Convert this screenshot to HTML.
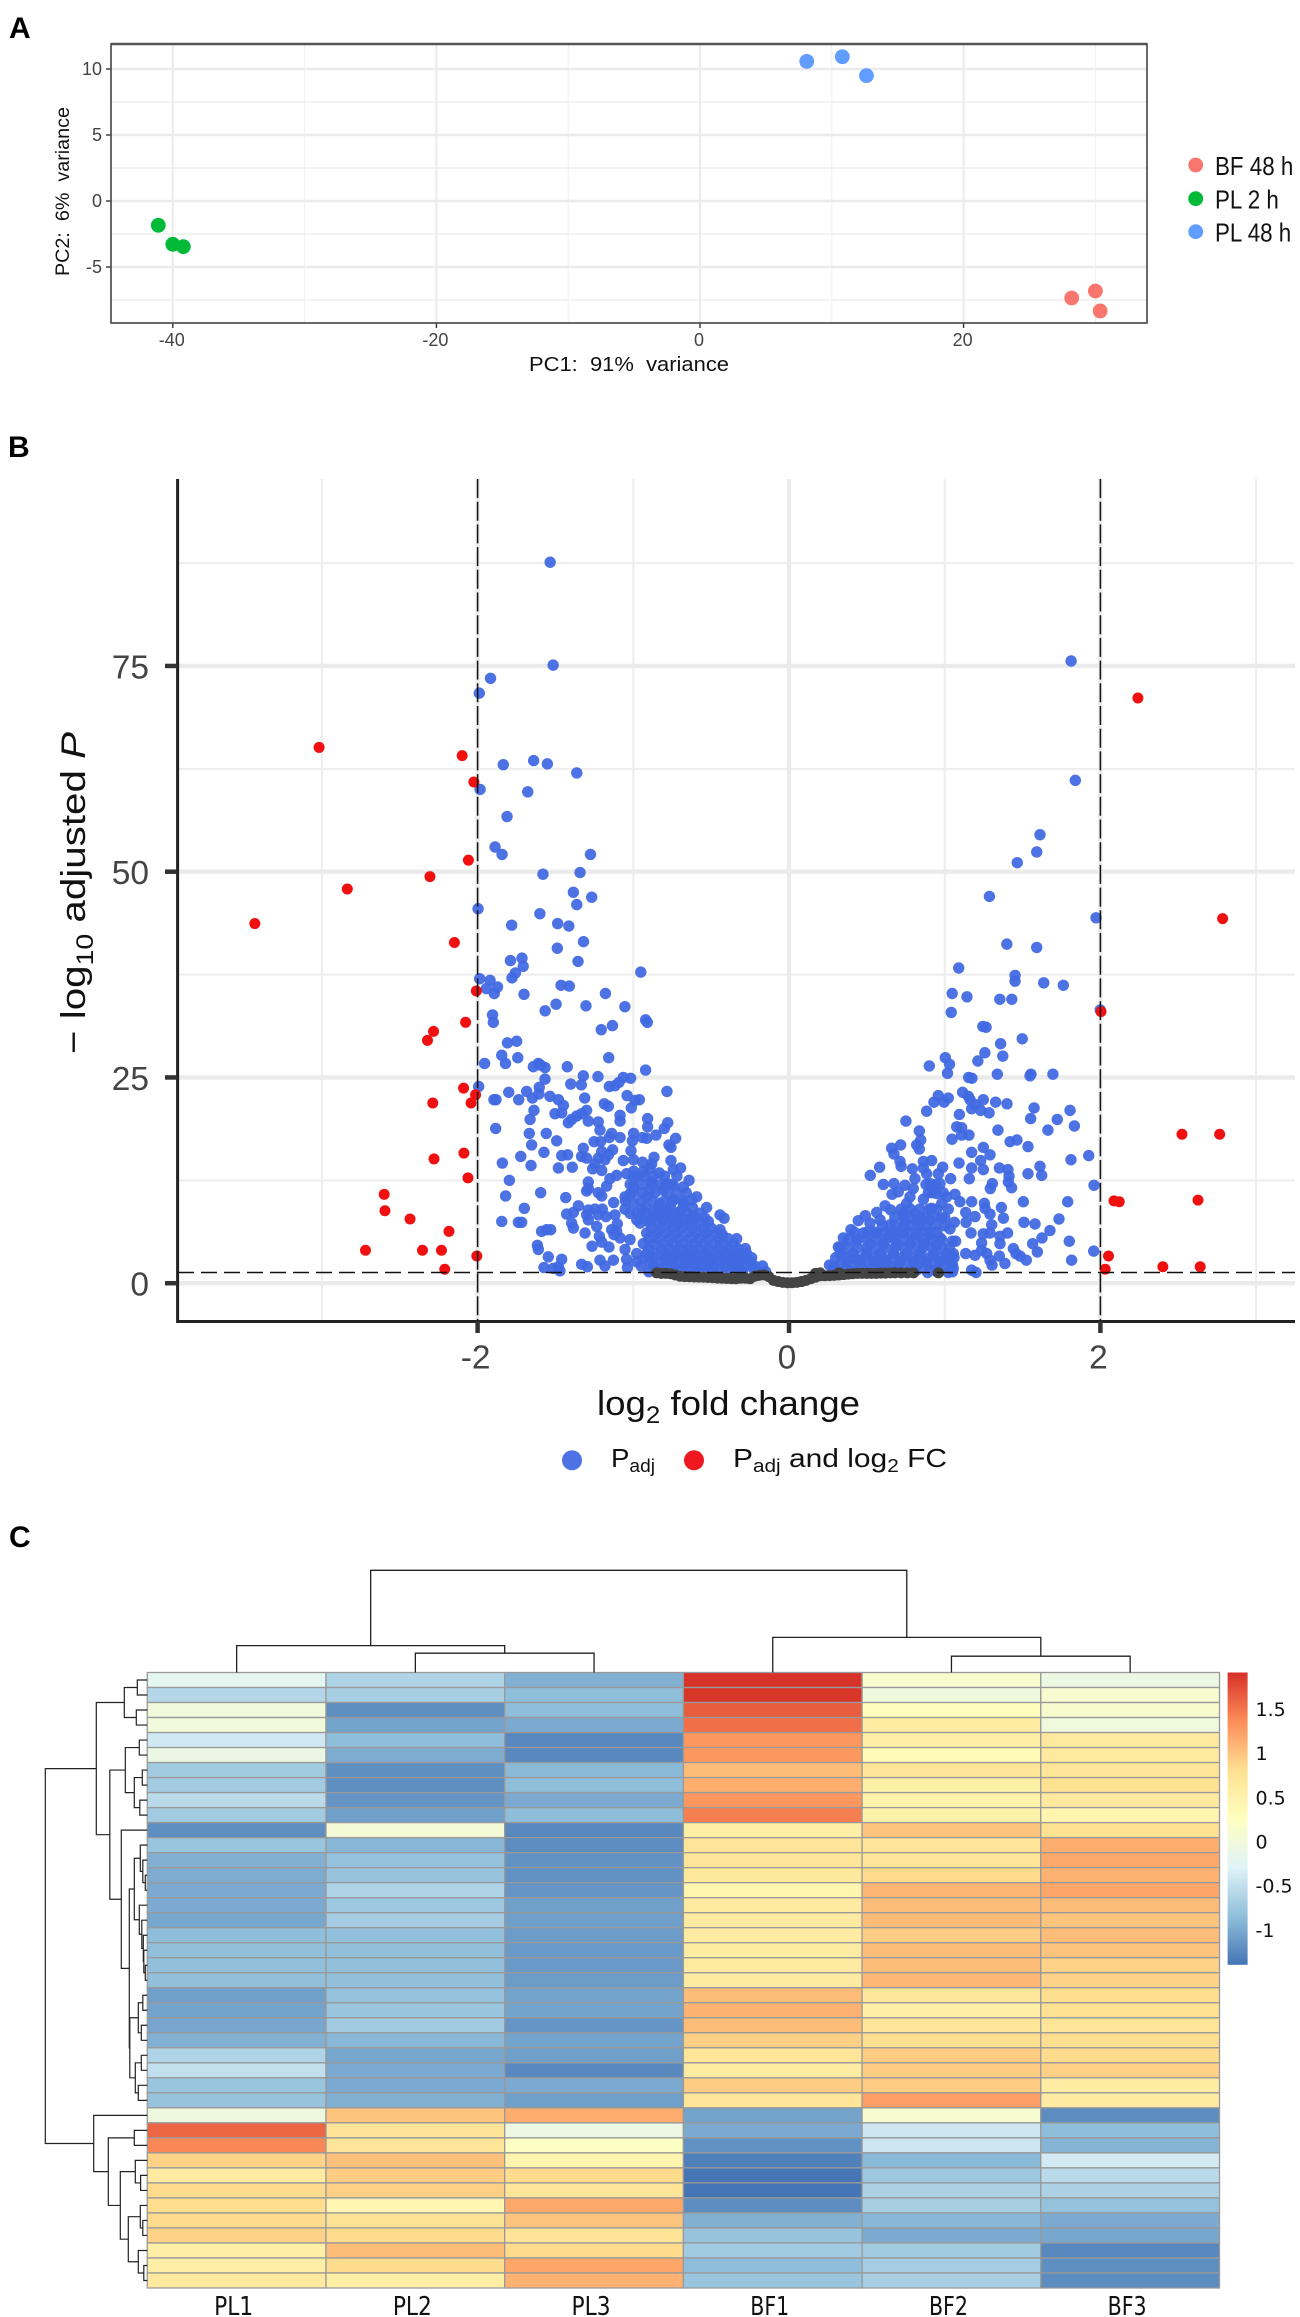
<!DOCTYPE html>
<html lang="en">
<head>
<meta charset="utf-8">
<title>PCA, volcano plot and heatmap</title>
<style>
html,body{margin:0;padding:0;background:#fff;}
svg{display:block;font-family:"Liberation Sans",sans-serif;}
</style>
</head>
<body>
<svg id="fig" xmlns="http://www.w3.org/2000/svg" width="1300" height="2317" viewBox="0 0 1300 2317">
  <rect x="0" y="0" width="1300" height="2317" fill="#fff"/>
  <text x="9" y="38" font-size="30" font-weight="bold" fill="#000">A</text>
  <text x="8" y="457" font-size="30" font-weight="bold" fill="#000">B</text>
  <text x="9" y="1547" font-size="30" font-weight="bold" fill="#000">C</text>
  <g id="pca"></g>
  <text x="529" y="371" font-size="20.5" fill="#111" textLength="200" lengthAdjust="spacingAndGlyphs" xml:space="preserve">PC1:  91%  variance</text>
  <text transform="translate(69 276) rotate(-90)" font-size="19.5" fill="#111" textLength="169" lengthAdjust="spacingAndGlyphs" xml:space="preserve">PC2:  6%  variance</text>
  <g id="volcano"></g>
  <text transform="translate(85 1054) rotate(-90)" font-size="34" fill="#111" textLength="322" lengthAdjust="spacingAndGlyphs" xml:space="preserve">− log<tspan font-size="24" dy="8">10</tspan><tspan dy="-8"> adjusted </tspan><tspan font-style="italic">P</tspan></text>
  <text x="597" y="1415" font-size="34" fill="#111" textLength="263" lengthAdjust="spacingAndGlyphs" xml:space="preserve">log<tspan font-size="24" dy="8">2</tspan><tspan dy="-8"> fold change</tspan></text>
  <circle cx="572" cy="1460.3" r="10" fill="#4d72e3"/>
  <text x="611" y="1467" font-size="26" fill="#111" textLength="44" lengthAdjust="spacingAndGlyphs">P<tspan font-size="18" dy="5">adj</tspan></text>
  <circle cx="694" cy="1460.3" r="10" fill="#f01820"/>
  <text x="733" y="1467" font-size="26" fill="#111" textLength="214" lengthAdjust="spacingAndGlyphs" xml:space="preserve">P<tspan font-size="18" dy="5">adj</tspan><tspan dy="-5"> and log</tspan><tspan font-size="18" dy="5">2</tspan><tspan dy="-5"> FC</tspan></text>
  <g id="heat"></g>
</svg>
<script>
// ---------- Panel A data ----------
const pcaXTicks = [-40, -20, 0, 20];
const pcaXMinor = [-30, -10, 10, 30];
const pcaYTicks = [10, 5, 0, -5];
const pcaYMinor = [7.5, 2.5, -2.5, -7.5];
const pcaBF48 = [[30, -6.82], [28.2, -7.35], [30.36, -8.33]];
const pcaPL2 = [[-41.1, -1.84], [-40, -3.28], [-39.2, -3.46]];
const pcaPL48 = [[8.1, 10.58], [10.8, 10.93], [12.63, 9.5]];
const pcaLegend = ['BF 48 h', 'PL 2 h', 'PL 48 h'];

// ---------- Panel B data ----------
const volXTicks = [-2, 0, 2];
const volXMinor = [-3, -1, 1, 3];
const volYTicks = [75, 50, 25, 0];
const volYMinor = [87.5, 62.5, 37.5, 12.5];
const volXCut = [-2, 2];
const volYCut = 1.3;
const blueUpperLeft = [[-1.534,87.6],[-1.515,75.1],[-1.917,73.5],[-1.989,71.7],[-1.835,63],[-1.64,63.5],[-1.552,63.1],[-1.363,62],[-1.984,60],[-1.678,59.7],[-1.811,56.7],[-1.888,53],[-1.843,52.1],[-1.275,52.1],[-1.58,49.7],[-1.342,49.9],[-1.385,47.5],[-1.267,46.9],[-1.363,46],[-1.997,45.5],[-1.6,44.9],[-1.486,43.7],[-1.414,43.4],[-1.781,43.5],[-1.32,41.5],[-1.488,40.7],[-1.789,39.2],[-1.715,39.5],[-1.355,39.1],[-1.707,38.5],[-1.757,37.7],[-1.779,37.1],[-0.952,37.8],[-1.987,37],[-1.92,36.8],[-1.872,36],[-1.944,35.8],[-1.893,35.2],[-1.464,36.2],[-1.411,36.1],[-1.702,35.1],[-1.179,35.2],[-1.496,33.9],[-1.304,33.7],[-1.054,33.6],[-1.566,33.1],[-1.904,32.6],[-1.899,31.7],[-0.921,32],[-0.91,31.7],[-1.134,31.3],[-1.206,30.8],[-1.808,29.2],[-1.749,29.4],[-1.845,27.7],[-1.742,27.4],[-1.821,26.7],[-1.158,27.4],[-1.955,26.7]];
const blueLowerLeft = [[-1.61,26.7],[-1.642,26.3],[-1.595,26.5],[-1.567,26.2],[-1.424,26.3],[-0.921,25.9],[-1.321,25.2],[-1.227,25.1],[-1.567,24.8],[-1.017,24.9],[-1.064,25],[-1.092,24.4],[-1.402,24.2],[-1.334,24.1],[-1.154,23.9],[-1.118,24],[-1.604,23.8],[-1.993,23.9],[-1.8,23.2],[-1.685,23.3],[-1.606,23],[-0.784,23.3],[-1.882,22.3],[-1.895,22.3],[-1.736,22.3],[-1.648,22.5],[-1.535,22.7],[-1.481,22.3],[-1.04,22.8],[-1.312,22.5],[-0.961,22.3],[-0.989,22.2],[-1.449,21.6],[-1.186,21.8],[-1.16,21.5],[-1.013,21.3],[-1.638,21],[-1.3,21],[-1.503,20.6],[-1.46,20.7],[-1.332,20.6],[-1.364,20.3],[-1.085,20.4],[-1.663,19.9],[-1.396,19.9],[-1.417,19.5],[-1.289,19.7],[-1.225,19.6],[-1.085,19.7],[-0.908,20],[-0.779,19.5],[-0.908,19],[-0.801,18.8],[-1.884,18.8],[-1.214,18.6],[-1.668,18.2],[-1.559,18.2],[-1.139,18.2],[-0.998,18.2],[-0.854,18],[-1.154,17.7],[-1.085,17.7],[-0.942,17.7],[-0.914,17.6],[-0.728,17.6],[-1.006,17.3],[-1.492,17.3],[-1.252,17.2],[-1.21,17.2],[-0.771,16.8],[-0.758,16.5],[-1.653,16.8],[-1.321,16.4],[-1.133,16.2],[-1.015,16.1],[-1.574,15.9],[-1.203,16],[-1.16,15.6],[-1.46,15.5],[-1.422,15.6],[-1.723,15.4],[-1.332,15.4],[-1.3,15.2],[-1.225,15.2],[-1.182,15],[-0.867,15.3],[-0.998,15],[-1.064,14.9],[-0.758,14.9],[-1.841,14.6],[-1.657,14.3],[-1.246,14.5],[-0.94,14.7],[-0.882,14.5],[-1.481,14],[-1.392,14.1],[-1.261,13.9],[-1.203,13.7],[-0.743,13.8],[-0.696,14],[-0.998,13.6],[-0.936,13.6],[-0.893,14],[-0.833,13.4],[-1.107,13.1],[-1.043,13.3],[-0.978,13],[-1.15,12.7],[-1.796,12.5],[-0.642,12.5],[-1.289,12.3],[-1.171,11.8],[-0.882,12.3],[-0.786,12.1],[-0.743,11.9],[-0.679,11.7],[-1.289,11.5],[-1.595,11],[-1.225,11],[-0.998,11.7],[-1.019,10.9],[-0.893,11.3],[-0.807,11.3],[-1.3,11.2],[-1.82,10.6],[-1.203,10.6],[-1.434,10.4],[-1.053,10.5],[-0.914,10.5],[-0.593,10.5],[-0.625,10.1],[-0.743,10.1],[-1.126,9.8],[-0.998,9.7],[-0.829,9.7],[-0.679,9.7],[-1.353,9.4],[-0.529,9.2],[-1.7,9.1],[-1.289,8.9],[-1.246,9],[-1.199,9],[-1.053,9],[-1.021,8.5],[-0.946,8.9],[-0.871,8.7],[-0.786,8.9],[-0.7,8.7],[-0.614,8.1],[-0.572,8.5],[-1.385,8.6],[-1.428,8.4],[-1.3,8.3],[-1.225,8.3],[-1.175,8.1],[-1.118,8.3],[-0.443,8.3],[-0.417,7.9],[-1.845,7.5],[-1.738,7.4],[-1.717,7.4],[-1.289,7.7],[-1.396,7.3],[-0.978,7.7],[-0.893,7.7],[-0.807,7.7],[-0.722,7.7],[-0.636,7.3],[-0.518,7.5],[-1.103,7.2],[-1.235,6.9],[-1.385,6.7],[-1.531,6.5],[-1.557,6.5],[-1.589,6.3],[-1.139,6.5],[-1.107,6.3],[-1.31,6.1],[-0.443,6.5],[-0.428,5.9],[-1.124,5.9],[-1.218,5.7],[-1.085,5.5],[-1.021,5.3],[-0.336,5.4],[-1.203,5],[-1.616,4.6],[-1.61,4.1],[-1.265,4.5],[-1.156,4.4],[-1.053,4.1],[-1.546,3.2],[-1.46,2.9],[-1.214,2.8],[-1.128,2.8],[-1.043,2.9],[-1.332,2.3],[-1.295,2],[-1.182,2.1],[-1.038,1.9],[-1.574,1.9],[-1.514,1.8],[-1.481,2],[-1.471,1.5]];
const blueDenseLeft = [[-0.978,8.5],[-0.914,8.5],[-0.85,8.5],[-0.786,8.5],[-0.722,8.5],[-0.658,8.5],[-0.957,7.3],[-0.893,7.3],[-0.829,7.3],[-0.764,7.3],[-0.7,7.3],[-0.636,7.3],[-0.572,7.3],[-0.914,6.1],[-0.85,6.1],[-0.786,6.1],[-0.722,6.1],[-0.657,6.1],[-0.593,6.1],[-0.529,6.1],[-0.465,6.1],[-0.936,4.8],[-0.871,4.8],[-0.807,4.8],[-0.743,4.8],[-0.679,4.8],[-0.614,4.8],[-0.55,4.8],[-0.486,4.8],[-0.422,4.8],[-0.358,4.8],[-0.978,3.6],[-0.914,3.6],[-0.85,3.6],[-0.786,3.6],[-0.722,3.6],[-0.657,3.6],[-0.593,3.6],[-0.529,3.6],[-0.465,3.6],[-0.4,3.6],[-0.336,3.6],[-0.272,3.6],[-0.978,2.6],[-0.893,2.6],[-0.829,2.6],[-0.764,2.6],[-0.7,2.6],[-0.636,2.6],[-0.572,2.6],[-0.507,2.6],[-0.443,2.6],[-0.379,2.6],[-0.315,2.6],[-0.25,2.6],[-0.85,1.8],[-0.764,1.8],[-0.65,1.8],[-0.55,1.8],[-0.443,1.8],[-0.336,1.8],[-0.229,1.8]];
const blueFillLeft = [[-1,13],[-0.93,13],[-0.87,13],[-0.8,13],[-0.72,13],[-1.02,12],[-0.95,12],[-0.88,12],[-0.82,12],[-0.76,12],[-1,11],[-0.94,11],[-0.86,11],[-0.78,11],[-0.72,11],[-0.66,11],[-1.05,10],[-0.95,10],[-0.88,10],[-0.8,10],[-0.75,10],[-0.68,10],[-0.92,9.2],[-0.84,9.2],[-0.76,9.2],[-0.68,9.2],[-0.62,9.2],[-0.95,7.9],[-0.88,7.9],[-0.82,7.9],[-0.75,7.9],[-0.68,7.9],[-0.6,7.9],[-0.54,7.9],[-0.88,6.7],[-0.82,6.7],[-0.75,6.7],[-0.69,6.7],[-0.62,6.7],[-0.55,6.7],[-0.5,6.7],[-0.9,5.4],[-0.84,5.4],[-0.77,5.4],[-0.71,5.4],[-0.64,5.4],[-0.58,5.4],[-0.52,5.4],[-0.45,5.4],[-0.39,5.4],[-0.9,4.2],[-0.82,4.2],[-0.77,4.2],[-0.7,4.2],[-0.64,4.2],[-0.58,4.2],[-0.52,4.2],[-0.45,4.2],[-0.39,4.2],[-0.33,4.2],[-0.28,4.2],[-0.93,3.1],[-0.87,3.1],[-0.8,3.1],[-0.74,3.1],[-0.68,3.1],[-0.62,3.1],[-0.55,3.1],[-0.49,3.1],[-0.42,3.1],[-0.36,3.1],[-0.3,3.1],[-0.24,3.1],[-0.95,2.1],[-0.87,2.1],[-0.8,2.1],[-0.74,2.1],[-0.67,2.1],[-0.6,2.1],[-0.54,2.1],[-0.48,2.1],[-0.41,2.1],[-0.35,2.1],[-0.28,2.1],[-0.22,2.1],[-0.17,2.1],[-0.9,1.4],[-0.82,1.4],[-0.72,1.4],[-0.6,1.4],[-0.5,1.4],[-0.4,1.4],[-0.3,1.4],[-0.2,1.4],[-0.15,1.4]];
const blueUpperRight = [[1.812,75.6],[1.839,61.1],[1.612,54.5],[1.591,52.4],[1.466,51.1],[1.287,47],[1.972,44.4],[1.399,41.2],[1.591,40.8],[1.09,38.3],[1.452,37.4],[1.452,36.7],[1.636,36.5],[1.762,36.2],[1.048,35.2],[1.143,34.8],[1.354,34.5],[1.431,34.5],[1.042,32.9],[1.999,33.2],[1.245,31.2],[1.266,31.1],[1.498,29.7],[1.359,29.1],[1.258,28],[1.373,27.6],[1.004,27.4],[1.213,27],[1.031,26.6],[0.901,26.4],[1.018,25.5],[1.338,25.4],[1.554,25.4],[1.548,25.2],[1.695,25.4],[1.154,25],[1.175,24.9]];
const blueLowerRight = [[1.115,23.2],[1.152,22.7],[1.163,22.3],[0.959,22.8],[0.931,22],[1.023,22.5],[0.996,22],[1.248,22.3],[1.327,22],[1.4,21.8],[1.195,21.7],[1.173,21.2],[1.231,21],[1.285,20.7],[0.884,20.9],[1.574,21.3],[1.805,21],[1.094,20.5],[1.552,20],[1.723,19.9],[0.751,19.7],[1.833,19.1],[1.077,19],[1.109,18.9],[1.342,18.6],[1.663,18.6],[0.837,18.5],[1.156,18],[1.109,18],[0.846,17.4],[1.047,17.5],[1.42,17.2],[1.464,17.4],[0.717,16.8],[0.82,16.8],[0.837,16.3],[1.535,16.6],[0.659,16.4],[1.248,16.5],[0.674,15.7],[1.173,15.9],[1.291,15.6],[1.925,15.5],[1.811,15],[0.713,14.8],[0.72,14.2],[0.863,14.8],[0.916,14.9],[1.092,14.6],[1.231,14.9],[0.582,14.1],[0.792,13.9],[0.863,14],[0.987,14.1],[1.173,14],[1.248,13.8],[1.351,14],[1.406,13.8],[1.612,14.2],[0.522,13.1],[0.884,13.3],[0.959,13.3],[1.413,13],[1.535,13.3],[1.623,13.1],[0.809,12.7],[1.038,12.7],[1.158,12.7],[1.409,12.3],[0.606,12],[0.674,12.1],[0.745,11.9],[0.906,12.1],[0.97,12.1],[1.306,12.1],[1.293,11.5],[1.43,11.6],[1.959,11.9],[0.798,11.5],[0.662,10.8],[0.702,11.1],[0.895,11],[0.948,10.9],[1.066,10.8],[1.013,10.5],[0.777,10.5],[0.863,10.2],[1.173,9.9],[1.255,9.7],[1.505,9.9],[1.79,9.9],[1.098,9.9],[0.981,9.7],[0.756,9.7],[0.617,9.4],[0.653,8.9],[0.916,9.1],[1.023,9],[1.364,9.2],[1.259,9.1],[0.563,8.6],[0.49,8.2],[0.734,8.5],[0.809,8.5],[1.135,8.6],[1.291,8.4],[1.195,8.1],[1.377,7.9],[1.734,7.8],[0.445,7.6],[0.52,7.3],[0.585,7.7],[0.649,7.1],[0.745,7.5],[0.82,7.5],[0.906,7.7],[0.981,7.9],[1.062,7.4],[1.137,7.4],[1.509,7.4],[1.58,7.2],[1.302,7.1],[0.398,6.5],[1.034,6.6],[1.676,6.4],[1.169,6.1],[1.404,6.1],[1.291,6.1],[1.248,6],[1.355,5.7],[1.625,5.5],[0.477,6.1],[0.563,6.1],[0.649,5.9],[0.734,6.1],[0.82,5.9],[0.906,5.9],[0.97,5.5],[0.349,5.5],[0.435,5.2],[1.8,5.1],[1.049,5.1],[1.07,5.1],[1.355,4.8],[1.565,4.8],[0.317,4.4],[1.237,4.9],[0.52,4.8],[0.606,4.8],[0.691,4.8],[0.777,4.8],[0.863,4.8],[0.948,4.6],[1.441,4.2],[1.595,3.8],[1.957,3.9],[1.135,3.6],[1.195,3.4],[1.237,4],[1.27,3.6],[1.458,3.6],[1.484,3.3],[1.351,3.3],[0.328,3.6],[0.413,3.6],[0.499,3.6],[0.585,3.6],[0.67,3.6],[0.756,3.6],[0.841,3.6],[0.927,3.4],[1.013,3.6],[1.055,3.6],[1.291,2.8],[1.304,2.2],[1.387,2.4],[1.524,2.8],[1.815,2.8],[0.37,2.6],[0.456,2.6],[0.542,2.6],[0.627,2.6],[0.713,2.6],[0.798,2.6],[0.884,2.6],[0.97,2.6],[1.045,2.4],[0.285,2],[0.37,1.8],[0.477,1.8],[0.585,1.8],[0.691,1.6],[0.82,1.6],[0.948,1.6],[1.055,1.8],[1.173,1.6],[1.201,1.3],[0.89,1.3],[1.023,1.3]];
const blueFillRight = [[0.88,12],[0.94,12],[0.92,11],[0.99,11],[0.72,9],[0.78,9],[0.84,9],[0.9,9],[0.95,9],[0.68,8],[0.74,8],[0.78,8],[0.84,8],[0.88,8],[0.94,8],[1,8],[0.6,7],[0.68,7],[0.74,7],[0.78,7],[0.84,7],[0.88,7],[0.94,7],[1,7],[0.42,6.2],[0.5,6.2],[0.55,6.2],[0.62,6.2],[0.68,6.2],[0.72,6.2],[0.78,6.2],[0.84,6.2],[0.9,6.2],[0.95,6.2],[0.38,5.3],[0.44,5.3],[0.5,5.3],[0.56,5.3],[0.62,5.3],[0.68,5.3],[0.74,5.3],[0.8,5.3],[0.86,5.3],[0.92,5.3],[0.98,5.3],[0.33,4.3],[0.38,4.3],[0.44,4.3],[0.5,4.3],[0.56,4.3],[0.62,4.3],[0.68,4.3],[0.74,4.3],[0.8,4.3],[0.86,4.3],[0.92,4.3],[0.98,4.3],[1.03,4.3],[0.3,3.1],[0.36,3.1],[0.42,3.1],[0.48,3.1],[0.54,3.1],[0.6,3.1],[0.66,3.1],[0.72,3.1],[0.78,3.1],[0.84,3.1],[0.9,3.1],[0.96,3.1],[1.02,3.1],[1.06,3.1],[0.26,2.2],[0.32,2.2],[0.4,2.2],[0.46,2.2],[0.52,2.2],[0.58,2.2],[0.64,2.2],[0.7,2.2],[0.76,2.2],[0.82,2.2],[0.88,2.2],[0.94,2.2],[1,2.2],[1.05,2.2],[0.3,1.4],[0.4,1.4],[0.5,1.4],[0.6,1.4],[0.7,1.4],[0.8,1.4],[0.95,1.4],[1.05,1.4]];
const greyLeft = [[-0.85,1.25],[-0.82,1.2],[-0.79,1.2],[-0.76,1.15],[-0.73,1],[-0.7,0.85],[-0.67,0.8],[-0.64,0.78],[-0.61,0.76],[-0.58,0.74],[-0.55,0.72],[-0.52,0.7],[-0.49,0.66],[-0.46,0.62],[-0.43,0.6],[-0.4,0.58],[-0.37,0.56],[-0.34,0.54],[-0.31,0.6],[-0.28,0.6],[-0.25,0.55],[-0.22,0.85],[-0.19,0.95],[-0.16,1],[-0.13,0.8],[-0.1,0.35],[-0.07,0.2],[-0.04,0.1],[-0.01,0.05]];
const greyRight = [[0.02,0.05],[0.05,0.1],[0.08,0.2],[0.11,0.35],[0.14,0.55],[0.17,0.72],[0.2,0.9],[0.17,1.2],[0.2,1.25],[0.23,0.9],[0.26,0.92],[0.29,0.95],[0.32,1],[0.32,1.25],[0.35,1.05],[0.38,1.1],[0.41,1.15],[0.44,1.2],[0.47,1.2],[0.5,1.2],[0.53,1.2],[0.56,1.2],[0.59,1.22],[0.62,1.22],[0.65,1.25],[0.68,1.25],[0.72,1.25],[0.76,1.25],[0.8,1.25],[0.96,1.25]];
const redLeft = [[-3.018,65.1],[-2.099,64.1],[-2.024,60.9],[-2.059,51.4],[-2.306,49.4],[-2.837,47.9],[-3.431,43.7],[-2.149,41.4],[-2.008,35.5],[-2.077,31.7],[-2.283,30.6],[-2.322,29.5],[-2.09,23.7],[-2.013,22.9],[-2.042,21.9],[-2.288,21.9],[-2.088,15.8],[-2.28,15.1],[-2.062,12.8],[-2.6,10.8],[-2.595,8.8],[-2.434,7.8],[-2.184,6.3],[-2.72,4],[-2.354,4],[-2.232,4],[-2.005,3.3],[-2.211,1.7]];
const redRight = [[2.241,71.1],[2.785,44.3],[2.004,33],[2.524,18.1],[2.766,18.1],[2.087,10],[2.121,9.9],[2.627,10.1],[2.052,3.3],[2.031,1.7],[2.401,2],[2.641,2]];

// ---------- Panel C data ----------
const heatColumns = ['PL1', 'PL2', 'PL3', 'BF1', 'BF2', 'BF3'];
const heatValues = [
[-0.2,-0.62,-0.95,1.9,0.12,-0.08],
[-0.6,-0.68,-0.85,1.88,-0.02,0.1],
[0.0,-1.2,-0.85,1.65,0.3,0.12],
[0.0,-1.05,-1.0,1.55,0.6,-0.02],
[-0.4,-0.85,-1.25,1.3,0.55,0.65],
[-0.1,-0.98,-1.25,1.3,0.35,0.65],
[-0.72,-1.2,-0.88,1.05,0.72,0.72],
[-0.72,-1.2,-0.85,1.15,0.55,0.8],
[-0.55,-1.15,-1.0,1.3,0.5,0.65],
[-0.72,-1.08,-0.85,1.45,0.5,0.45],
[-1.2,0.05,-1.25,0.55,1.0,0.8],
[-0.78,-0.9,-1.22,0.72,0.72,1.15],
[-0.95,-0.82,-1.18,0.72,0.72,1.18],
[-0.98,-0.8,-1.18,0.68,0.85,1.12],
[-1.0,-0.62,-1.15,0.45,1.1,1.2],
[-1.0,-0.75,-1.08,0.62,1.05,1.05],
[-1.02,-0.7,-1.08,0.62,1.05,1.0],
[-0.85,-0.83,-1.1,0.62,0.95,1.05],
[-0.83,-0.83,-1.12,0.6,1.05,1.0],
[-0.83,-0.83,-1.12,0.62,1.05,0.9],
[-0.83,-0.83,-1.1,0.62,1.08,0.9],
[-1.08,-0.82,-1.05,1.05,0.7,0.82],
[-1.05,-0.78,-1.05,1.12,0.55,0.8],
[-1.03,-0.72,-1.15,1.05,0.72,0.72],
[-0.95,-0.9,-1.05,0.92,0.82,0.82],
[-0.62,-1.02,-1.08,0.72,0.95,0.85],
[-0.5,-1.0,-1.25,0.6,0.95,0.92],
[-0.78,-1.0,-1.0,0.95,0.95,0.6],
[-0.8,-0.95,-1.08,0.72,1.25,0.62],
[-0.05,1.0,1.15,-1.05,0.1,-1.22],
[1.6,0.75,-0.08,-1.0,-0.42,-0.85],
[1.4,0.72,0.22,-1.18,-0.42,-0.92],
[0.9,1.02,0.45,-1.3,-0.88,-0.38],
[0.62,0.95,0.85,-1.38,-0.75,-0.55],
[0.85,0.92,0.72,-1.39,-0.65,-0.65],
[0.82,0.42,1.18,-1.22,-0.68,-0.82],
[0.85,0.78,1.0,-0.95,-0.9,-1.0],
[0.9,0.85,0.75,-0.8,-1.0,-1.02],
[0.55,1.05,0.85,-0.72,-0.72,-1.25],
[0.55,0.85,1.2,-0.85,-0.7,-1.2],
[0.65,0.55,1.12,-0.78,-0.68,-1.22]];
const legendTicks = [1.5, 1, 0.5, 0, -0.5, -1];
const legendTickLabels = ['1.5', '1', '0.5', '0', '-0.5', '-1'];
const colTree = [102.2, [26.9, 0, [19.3, 1, 2]], [35.1, 3, [16.3, 4, 5]]];
const rowTree = [102,
 [51,
  [23, [10, 0, 1], [11, 2, 3]],
  [37.5,
   [22, [8, 4, 5], [13, [5, 6, 7], [7.5, 8, 9]]],
   [26, 10,
    [18,
     [13, [7, 11, [4.5, 12, [2, 13, 14]]], [8, 15, [5.5, 16, [4, 17, [3.5, 18, [2, 19, 20]]]]]],
     [17.5, [9, [4.5, 21, 22], [6, 23, 24]], [12, [6, 25, 26], [9, 27, 28]]]
    ]
   ]
  ]
 ],
 [53.6, 29,
  [39,
   [13, 30, 31],
   [27, [12, 32, [6.7, 33, 34]], [19, [7, 35, [4.5, 36, 37]], [9, 38, [3.5, 39, 40]]]]
  ]
 ]
];

const NS = 'http://www.w3.org/2000/svg';
function mk(parent, tag, props, txt) {
  const e = document.createElementNS(NS, tag);
  for (const k in props) e.setAttribute(k, props[k]);
  if (txt !== undefined) e.textContent = txt;
  parent.appendChild(e);
  return e;
}

// ---------- Panel A ----------
(function () {
  const g = document.getElementById('pca');
  const xA = v => 700 + v * 13.18;
  const yA = v => 201 - v * 13.2;
  const L = 111, R = 1147, T = 44, B = 323;
  pcaXMinor.forEach(v => {
    const l = mk(g, 'line', { x1: xA(v), x2: xA(v), y1: T, y2: B, stroke: '#f0f0f0', 'stroke-width': 1 });
    
    
  });
  pcaYMinor.forEach(v => {
    const l = mk(g, 'line', { x1: L, x2: R, y1: yA(v), y2: yA(v), stroke: '#efefef', 'stroke-width': 1.6 });
    
    
  });
  pcaXTicks.forEach(v => {
    const l = mk(g, 'line', { x1: xA(v), x2: xA(v), y1: T, y2: B, stroke: '#ebebeb', 'stroke-width': 2 });
    
    
    const t = mk(g, 'line', { x1: xA(v), x2: xA(v), y1: B, y2: B + 5, stroke: '#333', 'stroke-width': 1.4 });
    
    
    const s = mk(g, 'text', { x: xA(v) - 1, y: 346, 'font-size': 18, 'text-anchor': 'middle', fill: '#444' }, String(v));
    
    
  });
  pcaYTicks.forEach(v => {
    const l = mk(g, 'line', { x1: L, x2: R, y1: yA(v), y2: yA(v), stroke: '#ebebeb', 'stroke-width': 2.4 });
    
    
    const t = mk(g, 'line', { x1: L - 5, x2: L, y1: yA(v), y2: yA(v), stroke: '#333', 'stroke-width': 1.4 });
    
    
    const s = mk(g, 'text', { x: 102, y: yA(v) + 6, 'font-size': 18, 'text-anchor': 'end', fill: '#444' }, String(v));
    
    
  });
  const frame = mk(g, 'rect', { x: L, y: T, width: R - L, height: B - T, fill: 'none', stroke: '#444', 'stroke-width': 1.6 });
  
  
  const top = mk(g, 'line', { x1: L, x2: R, y1: T, y2: T, stroke: '#555', 'stroke-width': 2.6 });
  
  
  const series = [[pcaBF48, '#f8766d', 165], [pcaPL2, '#00ba38', 198.7], [pcaPL48, '#619cff', 231.7]];
  series.forEach((sr, i) => {
    sr[0].forEach(p => {
      const c = mk(g, 'circle', { cx: xA(p[0]), cy: yA(p[1]), r: 7.4, fill: sr[1] });
      
      
    });
    const m = mk(g, 'circle', { cx: 1195.7, cy: sr[2], r: 7.4, fill: sr[1] });
    
    
    const t = mk(g, 'text', { transform: 'translate(1215 ' + (sr[2] + 10) + ') scale(0.86 1)', 'font-size': 26, fill: '#111' }, pcaLegend[i]);
    
    
  });
})();

// ---------- Panel B ----------
(function () {
  const g = document.getElementById('volcano');
  const xV = v => 789 + v * 155.7;
  const yV = v => 1283.2 - v * 8.23;
  const L = 178, R = 1295, T = 479, B = 1321.5;
  volXMinor.forEach(v => {
    const l = mk(g, 'line', { x1: xV(v), x2: xV(v), y1: T, y2: B, stroke: '#ededed', 'stroke-width': 2 });
    
    
  });
  volYMinor.forEach(v => {
    const l = mk(g, 'line', { x1: L, x2: R, y1: yV(v), y2: yV(v), stroke: '#ededed', 'stroke-width': 2 });
    
    
  });
  volXTicks.forEach(v => {
    const l = mk(g, 'line', { x1: xV(v), x2: xV(v), y1: T, y2: B, stroke: '#ebebeb', 'stroke-width': 4.2 });
    
    
  });
  volYTicks.forEach(v => {
    const l = mk(g, 'line', { x1: L, x2: R, y1: yV(v), y2: yV(v), stroke: '#ebebeb', 'stroke-width': 4.4 });
    
    
  });
  [blueUpperLeft, blueLowerLeft, blueDenseLeft, blueFillLeft, blueUpperRight, blueLowerRight, blueFillRight].forEach(list => {
    list.forEach(p => {
      const c = mk(g, 'circle', { cx: xV(p[0]), cy: yV(p[1]), r: 5.7, fill: '#4169e1', 'fill-opacity': 0.94 });
      
      
    });
  });
  [redLeft, redRight].forEach(list => {
    list.forEach(p => {
      const c = mk(g, 'circle', { cx: xV(p[0]), cy: yV(p[1]), r: 5.5, fill: '#f01010' });
      
      
    });
  });
  [greyLeft, greyRight].forEach(list => {
    list.forEach(p => {
      const c = mk(g, 'circle', { cx: xV(p[0]), cy: yV(p[1]), r: 5.5, fill: '#444' });
      
      
    });
  });
  volXCut.forEach(v => {
    const l = mk(g, 'line', { x1: xV(v), x2: xV(v), y1: T, y2: B, stroke: '#111', 'stroke-width': 1.5, 'stroke-dasharray': '19 3.7' });
    
    
  });
  const h = mk(g, 'line', { x1: L, x2: R, y1: yV(volYCut), y2: yV(volYCut), stroke: '#111', 'stroke-width': 1.5, 'stroke-dasharray': '16 7' });
  
  
  const ax = mk(g, 'path', { d: 'M177.6 ' + T + ' V' + B + ' H' + R, fill: 'none', stroke: '#222', 'stroke-width': 3 });
  
  
  volXTicks.forEach(v => {
    const t = mk(g, 'line', { x1: xV(v), x2: xV(v), y1: B, y2: B + 11.5, stroke: '#333', 'stroke-width': 4.5 });
    
    
    const s = mk(g, 'text', { x: xV(v) - 2, y: 1368.5, 'font-size': 33.5, 'text-anchor': 'middle', fill: '#444' }, String(v));
    
    
  });
  volYTicks.forEach(v => {
    const t = mk(g, 'line', { x1: 165, x2: 177, y1: yV(v), y2: yV(v), stroke: '#333', 'stroke-width': 4.5 });
    
    
    const s = mk(g, 'text', { x: 149, y: yV(v) + 12.5, 'font-size': 33.5, 'text-anchor': 'end', fill: '#444' }, String(v));
    
    
  });
})();

// ---------- Panel C ----------
(function () {
  const g = document.getElementById('heat');
  const L = 147.3, T = 1672.5, CW = 178.7, RH = 615.5 / heatValues.length;
  const stops = [[-1.39, [69, 117, 180]], [-0.839, [145, 191, 219]], [-0.287, [224, 243, 248]], [0.264, [255, 255, 191]], [0.815, [254, 224, 144]], [1.366, [252, 141, 89]], [1.917, [215, 48, 39]]];
  function colour(v) {
    let i = 0;
    while (i < stops.length - 2 && v > stops[i + 1][0]) i++;
    const a = stops[i], b = stops[i + 1];
    const t = Math.max(0, Math.min(1, (v - a[0]) / (b[0] - a[0])));
    const c = a[1].map((q, k) => Math.round(q + (b[1][k] - q) * t));
    return 'rgb(' + c.join(',') + ')';
  }
  heatValues.forEach((row, r) => {
    row.forEach((v, c) => {
      const cell = mk(g, 'rect', { x: L + c * CW, y: T + r * RH, width: CW, height: RH, fill: colour(v), stroke: '#999', 'stroke-width': 1.3 });
      
      
    });
  });
  heatColumns.forEach((name, c) => {
    const t = mk(g, 'text', { x: L + (c + 0.5) * CW - 3, y: 2315, 'font-size': 26, 'text-anchor': 'middle', fill: '#111', textLength: 39, lengthAdjust: 'spacingAndGlyphs', style: 'font-family:"DejaVu Sans",sans-serif' }, name);
    
    
  });
  function rowNode(n) {
    if (typeof n === 'number') return { x: L, y: T + (n + 0.5) * RH };
    const a = rowNode(n[1]), b = rowNode(n[2]);
    const x = L - n[0];
    const p = mk(g, 'path', { d: 'M' + a.x + ' ' + a.y + ' H' + x + ' V' + b.y + ' H' + b.x, fill: 'none', stroke: '#222', 'stroke-width': 1.2 });
    
    
    return { x: x, y: (a.y + b.y) / 2 };
  }
  function colNode(n) {
    if (typeof n === 'number') return { x: L + (n + 0.5) * CW, y: T };
    const a = colNode(n[1]), b = colNode(n[2]);
    const y = T - n[0];
    const p = mk(g, 'path', { d: 'M' + a.x + ' ' + a.y + ' V' + y + ' H' + b.x + ' V' + b.y, fill: 'none', stroke: '#222', 'stroke-width': 1.3 });
    
    
    return { x: (a.x + b.x) / 2, y: y };
  }
  rowNode(rowTree);
  colNode(colTree);
  const yC = v => 1842 - v * 88.4;
  const defs = mk(g, 'defs', {});
  const grad = mk(defs, 'linearGradient', { id: 'heat-scale', x1: 0, y1: 1, x2: 0, y2: 0 });
  stops.forEach(s => {
    mk(grad, 'stop', { offset: (s[0] + 1.39) / 3.307, 'stop-color': 'rgb(' + s[1].join(',') + ')' });
  });
  const bar = mk(g, 'rect', { x: 1227.6, y: T, width: 20, height: 292.3, fill: 'url(#heat-scale)' });
  
  
  legendTicks.forEach((v, i) => {
    const t = mk(g, 'text', { x: 1255.5, y: yC(v) + 6.5, 'font-size': 19, fill: '#111', style: 'font-family:"DejaVu Sans",sans-serif' }, legendTickLabels[i]);
    
    
  });
})();
</script>
</body>
</html>
